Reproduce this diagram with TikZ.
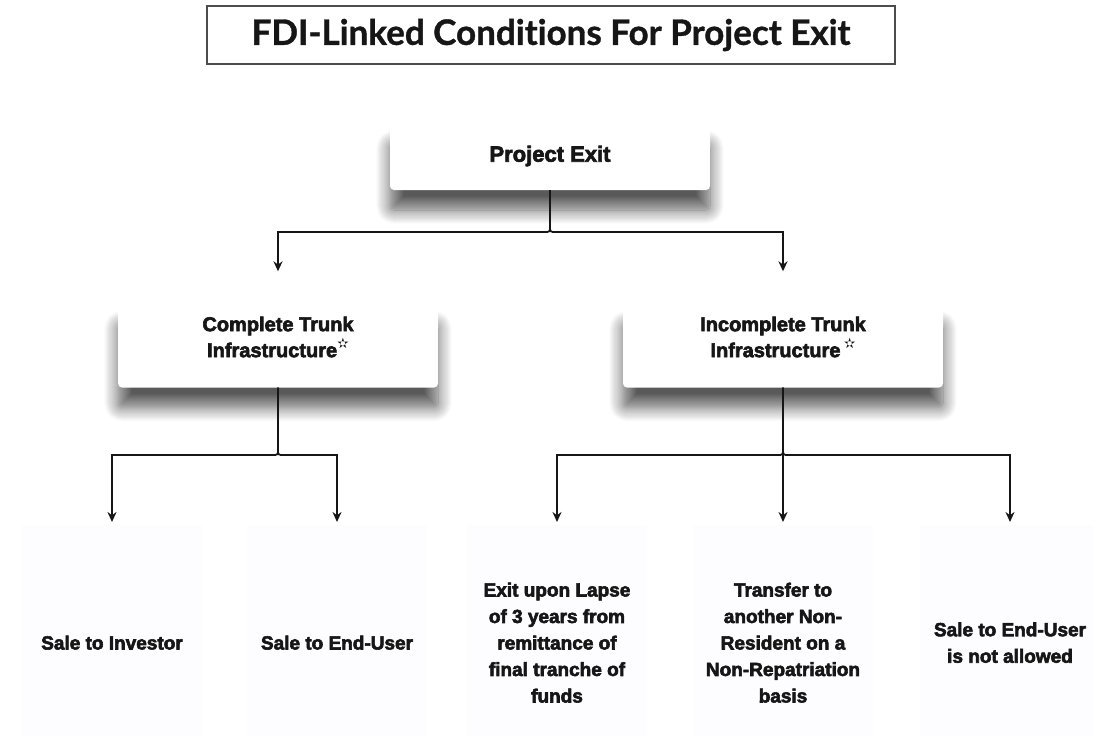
\documentclass[tikz,border=0pt]{standalone}
\usepackage{fontspec}
\setmainfont{Liberation Sans}[BoldFeatures={FakeBold=3}]
\newfontfamily\titlefont{Lato}[Ligatures=NoCommon, BoldFeatures={FakeBold=1}]
\newfontfamily\symfont{DejaVu Sans}
\usetikzlibrary{arrows.meta,shadows.blur}
\definecolor{ink}{HTML}{161616}
\definecolor{faint}{RGB}{253,252,255}
\newcommand{\mystar}{\raisebox{0.45em}{\symfont\fontsize{14}{14}\selectfont ✫}}
\begin{document}
\begin{tikzpicture}[x=1pt,y=-1pt,
  card/.style={fill=white, rounded corners=4pt, minimum width=320pt,
    blur shadow={shadow xshift=0pt, shadow yshift=-20pt, shadow blur radius=14pt, shadow opacity=65, shadow blur steps=14}},
  cardtext/.style={font=\bfseries\fontsize{20}{26}\selectfont, text=ink, align=center},
  leaf/.style={fill=faint, minimum width=180pt, minimum height=235pt, anchor=north,
    font=\bfseries\fontsize{19}{26.5}\selectfont, text=ink, align=center},
  conn/.style={draw=ink, line width=1.8pt},
  arr/.style={conn, -{Stealth[length=10pt,width=9pt]}},
]
\useasboundingbox (0,0) rectangle (1093,736);

% title
\node[draw=black!70, line width=1.3pt, minimum width=688pt, minimum height=58pt,
  font=\titlefont\bfseries\fontsize{35}{40}\selectfont, text=ink] (title) at (551,35) {FDI-Linked Conditions For Project Exit};

% cards
\node[card, minimum height=66pt] (pe) at (550,157) {};
\node[cardtext, font=\bfseries\fontsize{22}{26}\selectfont] (pet) at (550,156) {Project Exit};

\node[card, minimum height=83pt] (lc) at (278,346) {};
\node[cardtext] (lct) at (278,337) {Complete Trunk\\Infrastructure\mystar};

\node[card, minimum height=83pt] (rc) at (783,346) {};
\node[cardtext] (rct) at (783,337) {Incomplete Trunk\\Infrastructure\,\mystar};

% leaves
\node[leaf] (b1) at (112,525) {Sale to Investor};
\node[leaf] (b2) at (337,525) {Sale to End-User};
\node[leaf] (b3) at (557,525) {Exit upon Lapse\\of 3 years from\\remittance of\\final tranche of\\funds};
\node[leaf] (b4) at (783,525) {Transfer to\\another Non-\\Resident on a\\Non-Repatriation\\basis};
\node[leaf] (b5) at (1010,525) {Sale to End-User\\is not allowed};

% connectors from Project Exit
\draw[arr, shorten >=33pt] (pe.south) -- (550,226) .. controls (550,232) .. (544,232) -| (lc.north);
\draw[arr, shorten >=33pt] (pe.south) -- (550,226) .. controls (550,232) .. (556,232) -| (rc.north);

% connectors from Complete Trunk
\draw[arr, shorten >=3pt] (lc.south) -- (278,449) .. controls (278,455) .. (272,455) -| (b1.north);
\draw[arr, shorten >=3pt] (lc.south) -- (278,449) .. controls (278,455) .. (284,455) -| (b2.north);

% connectors from Incomplete Trunk
\draw[arr, shorten >=3pt] (rc.south) -- (783,449) .. controls (783,455) .. (777,455) -| (b3.north);
\draw[arr, shorten >=3pt] (rc.south) -- (b4.north);
\draw[arr, shorten >=3pt] (rc.south) -- (783,449) .. controls (783,455) .. (789,455) -| (b5.north);
\end{tikzpicture}
\end{document}
